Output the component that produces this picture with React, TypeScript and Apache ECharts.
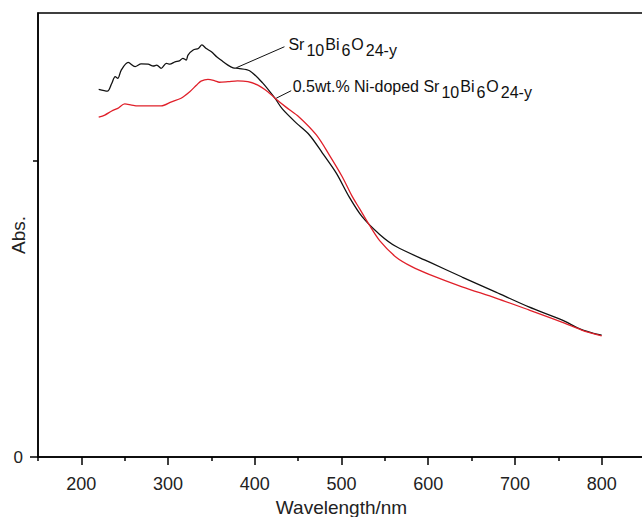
import React, { useEffect, useRef } from "react";
import * as echarts from "echarts";

// Wavelength (nm) / absorbance pairs
const pureWavelength = [220, 230, 235, 239, 242, 246, 254, 262, 269, 277, 283, 287, 292, 298, 302, 308, 313, 317, 321, 323, 329, 335, 339, 344, 350, 356, 361, 369, 375, 381, 394, 409, 423, 432, 448, 463, 478, 494, 509, 524, 544, 563, 601, 639, 678, 716, 754, 777, 793, 800];
const pureAbs = [1.242, 1.236, 1.262, 1.285, 1.279, 1.307, 1.333, 1.319, 1.328, 1.327, 1.321, 1.324, 1.313, 1.330, 1.327, 1.335, 1.338, 1.347, 1.341, 1.358, 1.375, 1.380, 1.392, 1.380, 1.369, 1.352, 1.341, 1.324, 1.315, 1.313, 1.305, 1.264, 1.213, 1.175, 1.128, 1.088, 1.027, 0.959, 0.878, 0.811, 0.752, 0.711, 0.659, 0.608, 0.557, 0.507, 0.463, 0.430, 0.416, 0.412];

const dopedWavelength = [220, 227, 235, 242, 250, 258, 265, 277, 292, 304, 315, 325, 333, 338, 346, 354, 359, 369, 380, 392, 403, 415, 423, 436, 451, 471, 486, 501, 512, 521, 532, 544, 563, 581, 601, 639, 678, 716, 754, 777, 800];
const dopedAbs = [1.148, 1.155, 1.169, 1.178, 1.193, 1.189, 1.186, 1.186, 1.186, 1.200, 1.212, 1.234, 1.257, 1.270, 1.276, 1.271, 1.266, 1.268, 1.271, 1.268, 1.257, 1.234, 1.213, 1.182, 1.149, 1.088, 1.020, 0.946, 0.882, 0.838, 0.784, 0.731, 0.675, 0.643, 0.617, 0.575, 0.537, 0.497, 0.456, 0.429, 0.409];

// Leader lines of the annotations: [start, end] in data units
const pureLeader = [[378.7, 1.315], [434.2, 1.386]];
const dopedLeader = [[424.7, 1.212], [442, 1.2375]];

const pureLabel = "{a|Sr}{b|10}{a|Bi}{b|6}{a|O}{b|24-y}";
const dopedLabel = "{a|0.5wt.% Ni-doped Sr}{b|10}{a|Bi}{b|6}{a|O}{b|24-y}";

const xMajorTicks = [200, 300, 400, 500, 600, 700, 800];
const xMinorTicks = [150, 250, 350, 450, 550, 650, 750, 850];
const yLabelTicks = [0];
const yMajorTicks = [1];

const FONT = "'Liberation Sans', Arial, sans-serif";

const richStyles = {
  a: { fontSize: 16, lineHeight: 23, verticalAlign: "top", color: "#111", fontFamily: FONT },
  b: { fontSize: 16, lineHeight: 23, verticalAlign: "top", padding: [6, 1, 0, 2], color: "#111", fontFamily: FONT },
};

function zip(xs: number[], ys: number[]) {
  return xs.map((x, i) => [x, ys[i]]);
}

function leaderSeries(pts: number[][], text: string, offsetY: number, distance: number) {
  return {
    type: "line",
    data: pts,
    symbol: "none",
    lineStyle: { color: "#111", width: 1 },
    z: 5,
    endLabel: {
      show: true,
      distance,
      offset: [0, offsetY],
      formatter: () => text,
      rich: richStyles,
    },
  };
}

export default function App() {
  const ref = useRef<HTMLDivElement>(null);
  useEffect(() => {
    if (!ref.current) return;
    const chart = echarts.init(ref.current, null, { renderer: "svg" });
    const axisColor = "#000";
    chart.setOption({
      animation: false,
      backgroundColor: "#fff",
      grid: {
        left: 38,
        top: 13,
        width: 607,
        height: 444,
        outerBoundsMode: "none",
        containLabel: false,
        show: true,
        borderColor: axisColor,
        borderWidth: 1.5,
      },
      xAxis: [
        {
          type: "value",
          min: 150,
          max: 850,
          position: "bottom",
          axisLine: { show: true, lineStyle: { color: axisColor, width: 1.5 } },
          axisTick: { show: true, customValues: xMajorTicks, length: 8, lineStyle: { color: axisColor, width: 1.5 } },
          axisLabel: { customValues: xMajorTicks, fontSize: 18, color: "#222", margin: 18, fontFamily: FONT },
          splitLine: { show: false },
          name: "Wavelength/nm",
          nameLocation: "middle",
          nameGap: 34,
          nameTextStyle: { fontSize: 19, color: "#222", fontFamily: FONT },
        },
        {
          type: "value",
          min: 150,
          max: 850,
          position: "bottom",
          axisLine: { show: false },
          axisTick: { show: true, customValues: xMinorTicks, length: 4, lineStyle: { color: axisColor, width: 1.5 } },
          axisLabel: { show: false },
          splitLine: { show: false },
        },
      ],
      yAxis: [
        {
          type: "value",
          min: 0,
          max: 1.5,
          position: "left",
          axisLine: { show: true, lineStyle: { color: axisColor, width: 1.5 } },
          axisTick: { show: true, customValues: yMajorTicks, length: 5, lineStyle: { color: axisColor, width: 1.5 } },
          axisLabel: { show: false },
          splitLine: { show: false },
          name: "Abs.",
          nameLocation: "middle",
          nameGap: 10,
          nameTextStyle: { fontSize: 19, color: "#222", fontFamily: FONT },
        },
        {
          type: "value",
          min: 0,
          max: 1.5,
          position: "left",
          axisLine: { show: false },
          axisTick: { show: true, customValues: yLabelTicks, length: 8, lineStyle: { color: axisColor, width: 1.5 } },
          axisLabel: { customValues: yLabelTicks, fontSize: 17, color: "#222", margin: 15, fontFamily: FONT },
          splitLine: { show: false },
        },
      ],
      series: [
        {
          type: "line",
          name: "Sr10Bi6O24-y",
          data: zip(pureWavelength, pureAbs),
          showSymbol: false,
          smooth: 0.3,
          lineStyle: { color: "#111", width: 1.3 },
        },
        {
          type: "line",
          name: "0.5wt.% Ni-doped Sr10Bi6O24-y",
          data: zip(dopedWavelength, dopedAbs),
          showSymbol: false,
          smooth: 0.3,
          lineStyle: { color: "#e0202a", width: 1.3 },
        },
        leaderSeries(pureLeader, pureLabel, 1.3, 4),
        leaderSeries(dopedLeader, dopedLabel, -0.7, 1.5),
      ],
    });
    return () => chart.dispose();
  }, []);
  return (
    <div
      ref={ref}
      style={{ position: "fixed", left: 0, top: 0, width: 642, height: 517, background: "#fff" }}
    />
  );
}
